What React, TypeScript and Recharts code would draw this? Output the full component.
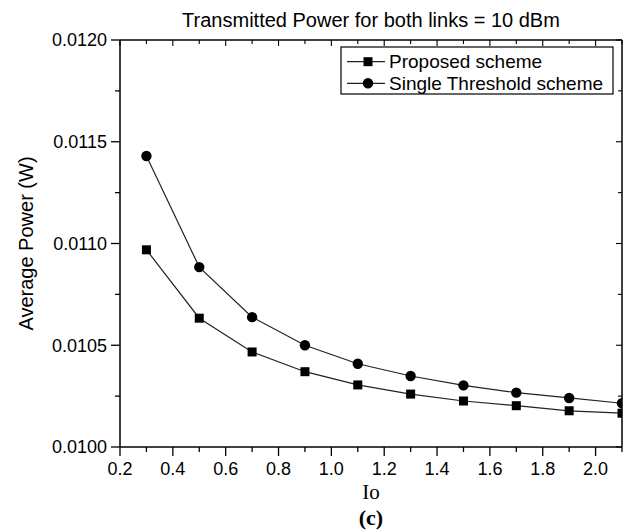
import React from 'react';
import { LineChart, Line, XAxis, YAxis, Customized } from 'recharts';

const xValues = [0.3, 0.5, 0.7, 0.9, 1.1, 1.3, 1.5, 1.7, 1.9, 2.1];
const proposedValues = [0.010969, 0.010633, 0.010467, 0.01037, 0.010305, 0.01026, 0.010226, 0.010203, 0.010178, 0.010166];
const singleValues = [0.01143, 0.010884, 0.010638, 0.0105, 0.010409, 0.010349, 0.010303, 0.010267, 0.010241, 0.010215];

const xTicks = [0.2, 0.3, 0.4, 0.5, 0.6, 0.7, 0.8, 0.9, 1.0, 1.1, 1.2, 1.3, 1.4, 1.5, 1.6, 1.7, 1.8, 1.9, 2.0, 2.1];
const xTickLabels = ['0.2', '0.4', '0.6', '0.8', '1.0', '1.2', '1.4', '1.6', '1.8', '2.0'];
const yTicks = [0.01, 0.01025, 0.0105, 0.01075, 0.011, 0.01125, 0.0115, 0.01175, 0.012];
const yTickLabels = ['0.0100', '0.0105', '0.0110', '0.0115', '0.0120'];

const seriesNames = ['Proposed scheme', 'Single Threshold scheme'];
const titleText = 'Transmitted Power for both links = 10 dBm';
const xTitle = 'Io';
const yTitle = 'Average Power (W)';
const panelLabel = '(c)';

const data = xValues.map((x, i) => ({ x, proposed: proposedValues[i], single: singleValues[i] }));

const SANS = '"Liberation Sans", Arial, sans-serif';
const SERIF = '"Liberation Serif", "Times New Roman", serif';

const W = 629;
const H = 532;
const PLOT = { left: 120, right: 622, top: 40, bottom: 447 };

const BottomTick = (props: any) => {
  const { x, y, payload } = props;
  const label = Number(payload.value).toFixed(1);
  const major = xTickLabels.includes(label);
  return (
    <g>
      <line x1={x} x2={x} y1={y} y2={y + (major ? 9 : 5)} stroke="#000" strokeWidth={1.3} />
      {major && (
        <text x={x} y={y + 28} textAnchor="middle" fontSize={18} fontFamily={SANS} fill="#000">
          {label}
        </text>
      )}
    </g>
  );
};

const TopTick = (props: any) => {
  const { x, y, payload } = props;
  const label = Number(payload.value).toFixed(1);
  const major = xTickLabels.includes(label);
  return <line x1={x} x2={x} y1={y} y2={y + (major ? 6 : 4)} stroke="#000" strokeWidth={1.1} />;
};

const LeftTick = (props: any) => {
  const { x, y, payload } = props;
  const label = Number(payload.value).toFixed(4);
  const major = yTickLabels.includes(label);
  return (
    <g>
      <line x1={x} x2={x - (major ? 9 : 5)} y1={y} y2={y} stroke="#000" strokeWidth={1.3} />
      {major && (
        <text x={x - 13} y={y + 6.4} textAnchor="end" fontSize={18} fontFamily={SANS} fill="#000">
          {label}
        </text>
      )}
    </g>
  );
};

const RightTick = (props: any) => {
  const { x, y, payload } = props;
  const label = Number(payload.value).toFixed(4);
  const major = yTickLabels.includes(label);
  return <line x1={x} x2={x - (major ? 6 : 4)} y1={y} y2={y} stroke="#000" strokeWidth={1.1} />;
};

const SquareDot = (props: any) => {
  const { cx, cy, index } = props;
  if (cx == null || cy == null) return <g key={`sq-${index}`} />;
  return <rect key={`sq-${index}`} x={cx - 4.5} y={cy - 4.5} width={9} height={9} fill="#000" />;
};

const CircleDot = (props: any) => {
  const { cx, cy, index } = props;
  if (cx == null || cy == null) return <g key={`ci-${index}`} />;
  return <circle key={`ci-${index}`} cx={cx} cy={cy} r={5.2} fill="#000" />;
};

const Decorations = () => {
  const cx = (PLOT.left + PLOT.right) / 2;
  const lx = 341;
  const ly = 47;
  return (
    <g>
      <text x={cx} y={27} textAnchor="middle" fontSize={20} fontFamily={SANS} fill="#000">
        {titleText}
      </text>
      <text x={cx} y={499} textAnchor="middle" fontSize={21} fontFamily={SERIF} fill="#000">
        {xTitle}
      </text>
      <text x={cx} y={525} textAnchor="middle" fontSize={22} fontWeight="bold" fontFamily={SERIF} fill="#000">
        {panelLabel}
      </text>
      <text
        x={0}
        y={0}
        transform={`translate(33, ${(PLOT.top + PLOT.bottom) / 2}) rotate(-90)`}
        textAnchor="middle"
        fontSize={20}
        fontFamily={SANS}
        fill="#000"
      >
        {yTitle}
      </text>
      <rect x={lx} y={ly} width={272} height={47} fill="#fff" stroke="#000" strokeWidth={1.2} />
      <line x1={lx + 6} x2={lx + 44} y1={ly + 14.7} y2={ly + 14.7} stroke="#222" strokeWidth={1.2} />
      <rect x={lx + 27 - 4.5} y={ly + 14.7 - 4.5} width={9} height={9} fill="#000" />
      <text x={lx + 48} y={ly + 14.7 + 6.7} fontSize={19} fontFamily={SANS} fill="#000">
        {seriesNames[0]}
      </text>
      <line x1={lx + 6} x2={lx + 44} y1={ly + 36.3} y2={ly + 36.3} stroke="#222" strokeWidth={1.2} />
      <circle cx={lx + 27} cy={ly + 36.3} r={5.2} fill="#000" />
      <text x={lx + 48} y={ly + 36.3 + 6.7} fontSize={19} fontFamily={SANS} fill="#000">
        {seriesNames[1]}
      </text>
    </g>
  );
};

export default function App() {
  return (
    <div style={{ position: 'absolute', left: 0, top: 0, width: W, height: H, background: '#fff' }}>
      <LineChart width={W} height={H} data={data} margin={{ top: 0, right: 0, bottom: 0, left: 0 }}>
        <XAxis
          xAxisId="bottom"
          dataKey="x"
          type="number"
          domain={[0.2, 2.1]}
          allowDataOverflow
          ticks={xTicks}
          interval={0}
          height={H - PLOT.bottom}
          tickSize={0}
          tickMargin={0}
          tickLine={false}
          tick={<BottomTick />}
          axisLine={{ stroke: '#000', strokeWidth: 1.5 }}
        />
        <XAxis
          xAxisId="top"
          orientation="top"
          dataKey="x"
          type="number"
          domain={[0.2, 2.1]}
          allowDataOverflow
          ticks={xTicks}
          interval={0}
          height={PLOT.top}
          tickSize={0}
          tickMargin={0}
          tickLine={false}
          tick={<TopTick />}
          axisLine={{ stroke: '#000', strokeWidth: 1.5 }}
        />
        <YAxis
          yAxisId="left"
          type="number"
          domain={[0.01, 0.012]}
          allowDataOverflow
          ticks={yTicks}
          interval={0}
          width={PLOT.left}
          tickSize={0}
          tickMargin={0}
          tickLine={false}
          tick={<LeftTick />}
          axisLine={{ stroke: '#000', strokeWidth: 1.5 }}
        />
        <YAxis
          yAxisId="right"
          orientation="right"
          type="number"
          domain={[0.01, 0.012]}
          allowDataOverflow
          ticks={yTicks}
          interval={0}
          width={W - PLOT.right}
          tickSize={0}
          tickMargin={0}
          tickLine={false}
          tick={<RightTick />}
          axisLine={{ stroke: '#000', strokeWidth: 1.5 }}
        />
        <Line
          xAxisId="bottom"
          yAxisId="left"
          type="linear"
          dataKey="proposed"
          name={seriesNames[0]}
          stroke="#222"
          strokeWidth={1.2}
          dot={<SquareDot />}
          activeDot={false}
          isAnimationActive={false}
        />
        <Line
          xAxisId="bottom"
          yAxisId="left"
          type="linear"
          dataKey="single"
          name={seriesNames[1]}
          stroke="#222"
          strokeWidth={1.2}
          dot={<CircleDot />}
          activeDot={false}
          isAnimationActive={false}
        />
        <Customized component={Decorations} />
      </LineChart>
    </div>
  );
}
